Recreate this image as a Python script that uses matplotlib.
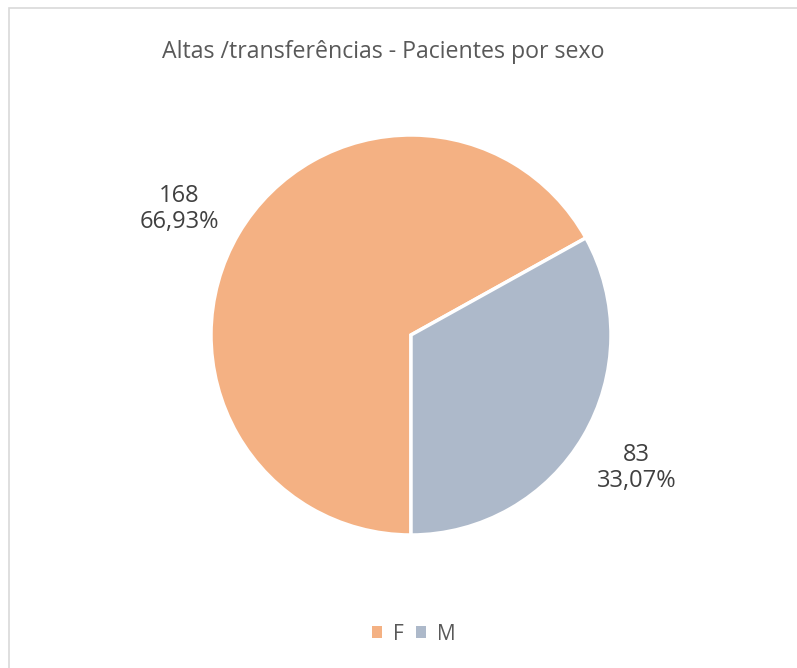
import matplotlib.pyplot as plt
from matplotlib.patches import Rectangle, Patch

# Data
categories = ['F', 'M']
counts = [168, 83]
percents = ['66,93%', '33,07%']
colors = ['#F4B183', '#ADB9CA']

plt.rcParams['font.family'] = ['Open Sans', 'DejaVu Sans']

fig = plt.figure(figsize=(7.97, 6.68), dpi=100)
W, H = 797, 668

# light border (only top and left edges are visible in the reference)
fig.patches.append(Rectangle((9 / W, -0.1), 1.2, 1 - 8 / H + 0.1, transform=fig.transFigure,
                             fill=False, edgecolor='#D9D9D9', linewidth=1.2))

# pie axes: centre (411, 335) px, radius 200 px
cx, cy, r = 411, 335, 200
ax = fig.add_axes([(cx - r) / W, (H - cy - r) / H, 2 * r / W, 2 * r / H])

labels = [f'{c}\n{p}' for c, p in zip(counts, percents)]
wedges, texts = ax.pie(counts, colors=colors, startangle=270, counterclock=False,
                       labels=labels, labeldistance=1.31,
                       wedgeprops=dict(edgecolor='white', linewidth=2.5),
                       textprops=dict(fontsize=17, color='#404040', ha='center', va='center',
                                      linespacing=1.12))
# small nudge so the labels sit like Excel's outside-end labels
x0, y0 = texts[0].get_position()
texts[0].set_position((x0 - 0.03, y0 - 0.035))
ax.set_xlim(-1, 1)
ax.set_ylim(-1, 1)
ax.set_aspect('equal')

fig.text(383 / W, 1 - 52 / H, 'Altas /transferências - Pacientes por sexo',
         ha='center', va='center', fontsize=16.7, color='#595959')

handles = [Patch(facecolor=c, edgecolor='none') for c in colors]
fig.legend(handles, categories, loc='center', bbox_to_anchor=(414 / W, 1 - 634 / H),
           ncol=2, frameon=False, fontsize=15, labelcolor='#595959',
           handlelength=0.45, handleheight=0.45, handletextpad=0.55, columnspacing=0.6)

fig.savefig('out.png', dpi=100)
